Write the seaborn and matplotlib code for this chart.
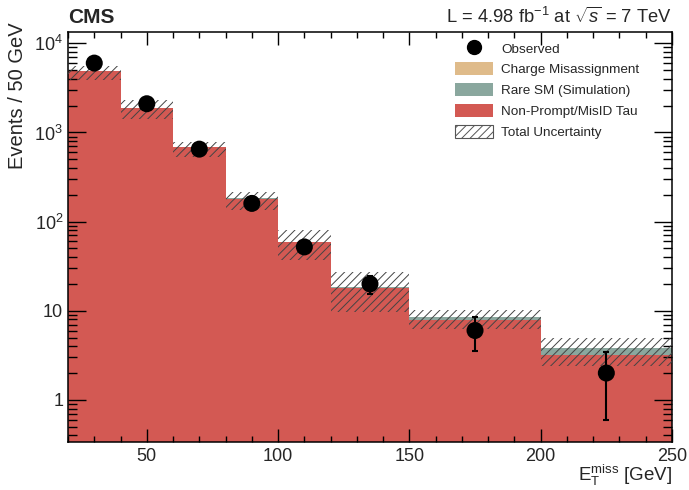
import numpy as np
import pandas as pd
import matplotlib
matplotlib.use("Agg")
import matplotlib.pyplot as plt
from matplotlib.patches import Patch
from matplotlib.lines import Line2D
from matplotlib.ticker import FixedLocator, MultipleLocator, LogLocator, NullFormatter
import seaborn as sns

# Binning (MET, GeV)
bin_edges = [20, 40, 60, 80, 100, 120, 150, 200, 250]
bin_centers = [30, 50, 70, 90, 110, 135, 175, 225]

# Background contributions per bin
nonprompt = [4940, 1900, 689, 181, 59, 18.2, 7.84, 3.15]
rare_sm = [12, 5, 2, 0.8, 0.4, 0.3, 0.73, 0.65]
charge_mis = [1, 0.5, 0.2, 0.05, 0.02, 0.01, 0.01, 0.01]

# Total uncertainty band (lower / upper edge)
unc_low = [3900, 1430, 537, 135, 36.7, 9.7, 6.3, 2.39]
unc_high = [5600, 2320, 785, 217, 80, 27.4, 10.2, 4.89]

# Observed data
observed = [6000, 2100, 650, 160, 52, 20, 6, 2]
obs_err = [77, 46, 25, 12.6, 7.2, 4.5, 2.45, 1.41]

proc_names = ["Charge Misassignment", "Rare SM (Simulation)", "Non-Prompt/MisID Tau"]
proc_colors = ["#dfbb8a", "#8aa79e", "#d35953"]

sns.set_style("ticks")
plt.rcParams['font.family'] = ['Liberation Sans', 'DejaVu Sans']
plt.rcParams['mathtext.fontset'] = 'custom'
plt.rcParams['mathtext.rm'] = 'Liberation Sans'
plt.rcParams['mathtext.it'] = 'Liberation Sans:italic'
plt.rcParams['hatch.linewidth'] = 0.7

# long-form table for seaborn
rows = []
for name, vals in zip(proc_names, [charge_mis, rare_sm, nonprompt]):
    for c, v in zip(bin_centers, vals):
        rows.append({"met": c, "events": v, "process": name})
df = pd.DataFrame(rows)

fig = plt.figure(figsize=(6.89, 4.90), dpi=100)
ax = fig.add_axes([0.0987, 0.098, 0.8766, 0.8367])
ax.set_yscale("log")

sns.histplot(data=df, x="met", weights="events", hue="process", hue_order=proc_names,
             bins=bin_edges, multiple="stack", element="bars", palette=proc_colors,
             alpha=1, linewidth=0, legend=False, ax=ax)

# uncertainty hatch
ax.bar(bin_centers, np.array(unc_high) - np.array(unc_low), bottom=unc_low,
       width=np.diff(bin_edges), fill=False, hatch="////", edgecolor="#444444",
       linewidth=0, zorder=3)

# observed points
ax.errorbar(bin_centers, observed, yerr=obs_err, fmt="none", ecolor="black",
            elinewidth=1.5, capsize=2, capthick=1.5, zorder=4)
sns.scatterplot(x=bin_centers, y=observed, color="black", s=150, edgecolor="none",
                zorder=5, ax=ax)

ax.set_xlim(20, 250)
ax.set_ylim(0.337, 13400)
ax.set_axisbelow(False)

ax.xaxis.set_major_locator(FixedLocator([50, 100, 150, 200, 250]))
ax.xaxis.set_minor_locator(MultipleLocator(10))
ax.yaxis.set_major_locator(FixedLocator([1, 10, 100, 1000, 10000]))
ax.set_yticklabels(["1", "10", "$10^{2}$", "$10^{3}$", "$10^{4}$"])
ax.yaxis.set_minor_locator(LogLocator(base=10, subs=np.arange(2, 10)))
ax.yaxis.set_minor_formatter(NullFormatter())

ax.tick_params(axis="both", which="both", direction="in", top=True, right=True,
               labelsize=13, width=1, color="black")
ax.tick_params(axis="y", which="major", length=13, pad=3.5)
ax.tick_params(axis="y", which="minor", length=6.5)
ax.tick_params(axis="x", which="major", length=9.5, pad=4)
ax.tick_params(axis="x", which="minor", length=4.5)
for sp in ax.spines.values():
    sp.set_linewidth(1.1)
    sp.set_color("black")

ax.set_xlabel(r"E$_{\mathrm{T}}^{\mathrm{miss}}$ [GeV]", fontsize=13.5, loc="right")
ax.xaxis.set_label_coords(1.0, -0.052)
ax.set_ylabel("Events / 50 GeV", fontsize=14.5, loc="top")
ax.yaxis.set_label_coords(-0.068, 1.024)

fig.text(0.0987, 0.945, "CMS", fontsize=15, fontweight="bold", ha="left", va="bottom")
fig.text(0.9753, 0.945, r"L = 4.98 fb$^{-1}$ at $\sqrt{s}$ = 7 TeV", fontsize=13.2,
         ha="right", va="bottom")

handles = [Line2D([], [], marker="o", color="black", linestyle="none", markersize=10)]
handles += [Patch(facecolor=c, edgecolor="none") for c in proc_colors]
handles += [Patch(facecolor="white", edgecolor="#555555", hatch="////", linewidth=0.8)]
labels = ["Observed"] + proc_names + ["Total Uncertainty"]
ax.legend(handles, labels, loc="upper left", bbox_to_anchor=(0.632, 0.99), frameon=False,
          fontsize=9.7, handlelength=2.8, handleheight=1.1, labelspacing=0.5,
          handletextpad=0.6, borderaxespad=0)

fig.savefig("out.png", dpi=100)
